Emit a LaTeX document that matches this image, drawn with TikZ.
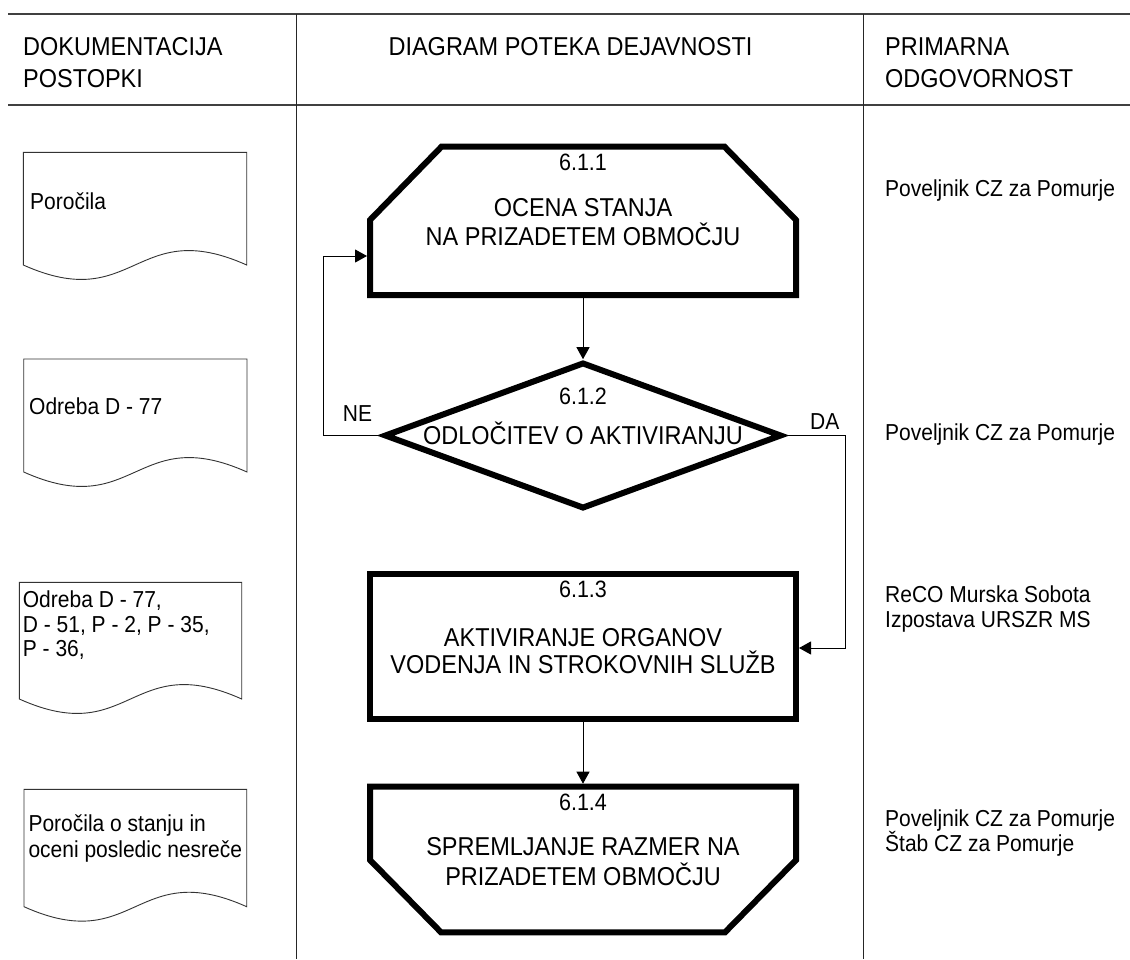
\documentclass[tikz,border=0pt]{standalone}
\usepackage{graphicx}
\usepackage{fontspec}
\setmainfont{Liberation Sans}
\usetikzlibrary{arrows.meta,shapes.geometric}
\newcommand\tallt[1]{\scalebox{1}[1.1]{#1}}
\newcommand\mydocshape[4]{%
  \draw[docshape] (#1,#3) -- (#2,#3) -- (#2,#4)
    .. controls ({(#1+#2)/2},{#4-50}) and ({(#1+#2)/2},{#4+50}) .. (#1,#4) -- cycle;}
\begin{document}
\begin{tikzpicture}[x=1pt,y=-1pt,
  vrule/.style={line width=1pt, draw=black!85},
  hrule/.style={line width=1.6pt, draw=black!75},
  docshape/.style={line width=0.9pt, draw=black!80},
  thickshape/.style={line width=6pt, draw=black, fill=white},
  conn/.style={line width=1pt, draw=black, -{Triangle[length=12pt,width=13pt]}},
  hdr/.style={font=\fontsize{23.5}{28}\selectfont, inner sep=0pt},
  body/.style={font=\fontsize{21}{25}\selectfont, inner sep=0pt, anchor=base west},
  fc/.style={font=\fontsize{23.5}{28}\selectfont, inner sep=0pt, anchor=base},
  num/.style={font=\fontsize{21.5}{25}\selectfont, inner sep=0pt, anchor=base},
  anchorbox/.style={draw=none, inner sep=0pt, outer sep=0pt}
]
\useasboundingbox[fill=white] (0,0) rectangle (1130,959);

% table rules
\coordinate (tl) at (8,14);
\coordinate (tr) at (1130,14);
\coordinate (ml) at (8,105);
\coordinate (mr) at (1130,105);
\draw[hrule] (tl) -- (tr);
\draw[hrule] (ml) -- (mr);
\coordinate (v1t) at (296,14);
\coordinate (v1b) at (296,959);
\coordinate (v2t) at (863,14);
\coordinate (v2b) at (863,959);
\draw[vrule] (v1t) -- (v1b);
\draw[vrule] (v2t) -- (v2b);

% headers
\node[hdr, anchor=base west] (hA1) at (23,55) {\tallt{DOKUMENTACIJA}};
\node[hdr, anchor=base west] (hA2) at (23,87) {\tallt{POSTOPKI}};
\node[hdr, anchor=base] (hB) at (570.5,55) {\tallt{DIAGRAM POTEKA DEJAVNOSTI}};
\node[hdr, anchor=base west] (hC1) at (885,55) {\tallt{PRIMARNA}};
\node[hdr, anchor=base west] (hC2) at (885,87) {\tallt{ODGOVORNOST}};

% documents (left column)
\mydocshape{23.3}{246.7}{152.3}{265}
\node[body] (d1t) at (30,209) {\tallt{Poročila}};
\mydocshape{23.7}{247}{359}{472}
\node[body] (d2t) at (29,414) {\tallt{Odreba D - 77}};
\mydocshape{19.3}{241.7}{582.3}{699}
\node[body] (d3a) at (22.7,607) {\tallt{Odreba D - 77,}};
\node[body] (d3b) at (22.7,632.5) {\tallt{D - 51, P - 2, P - 35,}};
\node[body] (d3c) at (22.7,656) {\tallt{P - 36,}};
\mydocshape{24}{246.7}{789.3}{906.7}
\node[body] (d4a) at (28.3,831.7) {\tallt{Poročila o stanju in}};
\node[body] (d4b) at (28.3,857.5) {\tallt{oceni posledic nesreče}};

% responsibility (right column)
\node[body] (r1) at (885,196) {\tallt{Poveljnik CZ za Pomurje}};
\node[body] (r2) at (885,440) {\tallt{Poveljnik CZ za Pomurje}};
\node[body] (r3a) at (885,602) {\tallt{ReCO Murska Sobota}};
\node[body] (r3b) at (885,627) {\tallt{Izpostava URSZR MS}};
\node[body] (r4a) at (885,826) {\tallt{Poveljnik CZ za Pomurje}};
\node[body] (r4b) at (885,851) {\tallt{Štab CZ za Pomurje}};

% 6.1.1 hexagon
\draw[thickshape] (370,295) -- (370,220) -- (441.5,146.7) -- (724.5,146.7)
  -- (796,220) -- (796,295) -- cycle;
\node[anchorbox, minimum width=432, minimum height=154.3] (h1) at (583,220.85) {};
\node[num] (n1) at (583,170) {\tallt{6.1.1}};
\node[fc] (h1a) at (583,216.5) {\tallt{OCENA STANJA}};
\node[fc] (h1b) at (583,245) {\tallt{NA PRIZADETEM OBMOČJU}};

% 6.1.2 diamond
\node[thickshape, diamond, inner sep=0pt, minimum width=397.6, minimum height=146.6] (d) at (583,435.5) {};
\node[num] (n2) at (583,404) {\tallt{6.1.2}};
\node[fc] (dt) at (583,444) {\tallt{ODLOČITEV O AKTIVIRANJU}};

% 6.1.3 box
\node[thickshape, rectangle, inner sep=0pt, minimum width=426, minimum height=145.3] (b3) at (583,646.7) {};
\node[num] (n3) at (583,597.7) {\tallt{6.1.3}};
\node[fc] (b3a) at (583,646.7) {\tallt{AKTIVIRANJE ORGANOV}};
\node[fc] (b3b) at (583,673) {\tallt{VODENJA IN STROKOVNIH SLUŽB}};

% 6.1.4 shape
\draw[thickshape] (370,786.7) -- (796,786.7) -- (796,860) -- (725,932.3)
  -- (441,932.3) -- (370,860) -- cycle;
\node[anchorbox, minimum width=432, minimum height=151.6] (s4) at (583,859.5) {};
\node[num] (n4) at (583,810.7) {\tallt{6.1.4}};
\node[fc] (s4a) at (583,855) {\tallt{SPREMLJANJE RAZMER NA}};
\node[fc] (s4b) at (583,885) {\tallt{PRIZADETEM OBMOČJU}};

% connectors
\draw[conn] (h1.south) -- (d.north);
\coordinate (neC) at (323,256);
\draw[conn] (d.west) -| (neC) -- (h1.west |- neC);
\coordinate (daC) at (845,648);
\draw[conn] (d.east) -| (daC) -- (b3.east |- daC);
\draw[conn] (b3.south) -- (s4.north);

% labels
\node[body] (ne) at (342.7,421.7) {\tallt{NE}};
\node[body] (da) at (810,429) {\tallt{DA}};
\end{tikzpicture}
\end{document}
